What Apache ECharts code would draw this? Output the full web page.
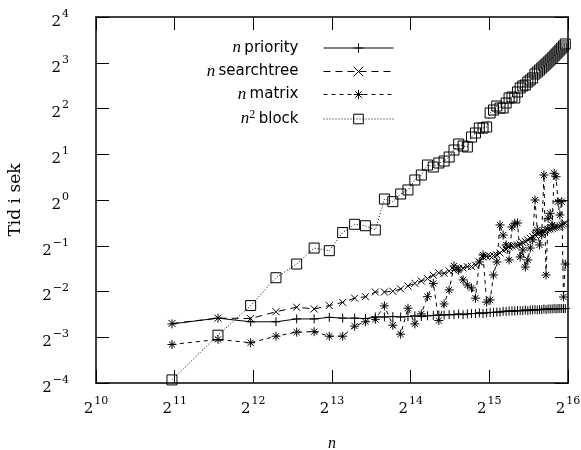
<!DOCTYPE html>
<html>
<head>
<meta charset="utf-8">
<script src="https://cdn.jsdelivr.net/npm/echarts@6/dist/echarts.min.js"></script>
<style>
  html, body { margin: 0; padding: 0; background: #fff; }
  #chart { width: 581px; height: 450px; }
</style>
</head>
<body>
<div id="chart"></div>
<script>
// Problem size n
const sizes = [
  2000, 3000, 4000, 5000, 6000, 7000, 8000, 9000, 10000, 11000,
  12000, 13000, 14000, 15000, 16000, 17000, 18000, 19000, 20000, 21000,
  22000, 23000, 24000, 25000, 26000, 27000, 28000, 29000, 30000, 31000,
  32000, 33000, 34000, 35000, 36000, 37000, 38000, 39000, 40000, 41000,
  42000, 43000, 44000, 45000, 46000, 47000, 48000, 49000, 50000, 51000,
  52000, 53000, 54000, 55000, 56000, 57000, 58000, 59000, 60000, 61000,
  62000, 63000, 64000
];

// Running time in seconds
const priorityTimes = [
  0.153, 0.167, 0.158, 0.158, 0.165, 0.165, 0.169, 0.167, 0.167, 0.166,
  0.170, 0.170, 0.171, 0.170, 0.171, 0.173, 0.171, 0.173, 0.174, 0.175,
  0.175, 0.176, 0.176, 0.178, 0.176, 0.178, 0.179, 0.179, 0.181, 0.179,
  0.181, 0.182, 0.182, 0.183, 0.183, 0.185, 0.185, 0.186, 0.186, 0.186,
  0.187, 0.187, 0.187, 0.189, 0.187, 0.189, 0.189, 0.190, 0.189, 0.190,
  0.190, 0.192, 0.190, 0.192, 0.192, 0.192, 0.193, 0.192, 0.193, 0.193,
  0.193, 0.193, 0.193
];

const searchtreeTimes = [
  0.154, 0.167, 0.166, 0.184, 0.197, 0.192, 0.202, 0.212, 0.226, 0.231,
  0.248, 0.248, 0.251, 0.260, 0.272, 0.283, 0.293, 0.304, 0.320, 0.332,
  0.329, 0.341, 0.346, 0.355, 0.357, 0.364, 0.365, 0.373, 0.391, 0.422,
  0.425, 0.428, 0.431, 0.435, 0.448, 0.469, 0.476, 0.491, 0.497, 0.502,
  0.506, 0.513, 0.524, 0.533, 0.546, 0.560, 0.575, 0.588, 0.604, 0.611,
  0.621, 0.625, 0.635, 0.642, 0.644, 0.651, 0.659, 0.664, 0.667, 0.674,
  0.685, 0.695, 0.703
];

const matrixTimes = [
  0.112, 0.121, 0.115, 0.127, 0.135, 0.136, 0.127, 0.127, 0.148, 0.158,
  0.164, 0.201, 0.150, 0.131, 0.194, 0.153, 0.178, 0.231, 0.283, 0.161,
  0.207, 0.256, 0.368, 0.346, 0.298, 0.276, 0.264, 0.226, 0.391, 0.435,
  0.213, 0.220, 0.321, 0.391, 0.685, 0.588, 0.506, 0.403, 0.664, 0.703,
  0.705, 0.422, 0.469, 0.362, 0.403, 0.483, 0.546, 1.000, 0.635, 0.506,
  0.588, 1.460, 0.321, 0.758, 0.817, 0.685, 1.499, 1.423, 0.975, 0.797,
  0.975, 0.230, 0.379
];

const blockTimes = [
  0.0655, 0.129, 0.202, 0.308, 0.379, 0.483, 0.464, 0.611, 0.692, 0.677,
  0.635, 1.015, 0.975, 1.095, 1.164, 1.354, 1.460, 1.699, 1.648, 1.752,
  1.805, 1.918, 2.133, 2.336, 2.266, 2.232, 2.597, 2.759, 2.977, 2.977,
  3.022, 3.737, 3.910, 4.155, 4.030, 4.030, 4.347, 4.690, 4.762, 4.690,
  5.137, 5.457, 5.625, 5.712, 5.977, 6.161, 6.350, 6.747, 6.955, 7.169,
  7.389, 7.615, 7.850, 8.090, 8.340, 8.597, 8.862, 9.134, 9.416, 9.706,
  10.00, 10.31, 10.63
];

const seriesNames = ['n priority', 'n searchtree', 'n matrix', 'n2 block'];
const legendWords = ['priority', 'searchtree', 'matrix', 'block'];

const SERIF = '"DejaVu Serif", "Liberation Serif", serif';
const ROMAN = '"Liberation Serif", "DejaVu Serif", serif';
const SANS = '"DejaVu Sans", "Liberation Sans", sans-serif';

const pairs = ys => sizes.map((n, i) => [n, ys[i]]);

// power-of-two tick labels: 2 with a raised exponent
const powerLabel = v => {
  const e = Math.round(Math.log2(v));
  return '{b|2}{e|' + (e < 0 ? '\u2212' + (-e) : e) + '}';
};
const powerRich = {
  b: { fontFamily: SERIF, fontSize: 15, color: '#000', verticalAlign: 'bottom', lineHeight: 16 },
  e: { fontFamily: SERIF, fontSize: 11, color: '#000', verticalAlign: 'bottom', lineHeight: 11, padding: [0, 0, 10, 1] }
};

const symbols = {
  plus: 'path://M5,0V10M0,5H10',
  cross: 'path://M0,0L10,10M10,0L0,10',
  star: 'path://M5,0V10M0,5H10M1.6,1.6L8.4,8.4M8.4,1.6L1.6,8.4',
  square: 'path://M0,0H10V10H0Z'
};

function lineSeries(name, ys, symbol, size, dash) {
  return {
    name: name,
    type: 'line',
    data: pairs(ys),
    symbol: symbol,
    symbolSize: size,
    showSymbol: true,
    showAllSymbol: true,
    smooth: false,
    itemStyle: { color: 'rgba(0,0,0,0)', borderColor: '#000', borderWidth: 1 },
    lineStyle: { color: '#000', width: 1, type: dash },
    emphasis: { disabled: true }
  };
}

const legendRich = {
  i: { fontFamily: ROMAN, fontStyle: 'italic', fontSize: 17, color: '#000' },
  s: { fontFamily: SANS, fontSize: 15, color: '#000' },
  sup: { fontFamily: ROMAN, fontSize: 12, color: '#000', verticalAlign: 'bottom', padding: [0, 0, 9, 0] }
};

const legendRows = [48, 71.5, 94.5, 117];
const legends = seriesNames.map((nm, k) => ({
  data: [nm],
  orient: 'vertical',
  align: 'right',
  right: 187,
  top: legendRows[k] - 8.5,
  padding: 0,
  itemWidth: 70,
  itemHeight: 12,
  selectedMode: false,
  formatter: () => k === 3
    ? '{i|n}{sup|2} {s|' + legendWords[k] + '}'
    : '{i|n} {s|' + legendWords[k] + '}',
  textStyle: { color: '#000', padding: [0, 20, 0, 0], rich: legendRich },
  itemStyle: { borderWidth: 1 },
  lineStyle: { type: 'inherit', width: 1 }
}));

const tickStyle = { show: true, inside: true, length: 13, lineStyle: { color: '#000', width: 1 } };
const frameLine = { show: true, lineStyle: { color: '#000', width: 1.5 } };

const chart = echarts.init(document.getElementById('chart'), null, { renderer: 'canvas' });
chart.setOption({
  animation: false,
  backgroundColor: '#fff',
  grid: { left: 96, right: 13, top: 17, bottom: 67, containLabel: false, outerBoundsMode: 'none' },
  legend: legends,
  xAxis: [
    {
      type: 'log', logBase: 2, min: 1024, max: 65536, splitNumber: 6,
      name: 'n', nameLocation: 'middle', nameGap: 53,
      nameTextStyle: { fontFamily: ROMAN, fontStyle: 'italic', fontSize: 16, color: '#000' },
      axisLine: frameLine, axisTick: tickStyle, splitLine: { show: false }, minorTick: { show: false },
      axisLabel: { formatter: powerLabel, rich: powerRich, margin: 18, color: '#000' }
    },
    {
      type: 'log', logBase: 2, min: 1024, max: 65536, splitNumber: 6, position: 'top',
      axisLine: frameLine, axisTick: tickStyle, splitLine: { show: false }, axisLabel: { show: false }
    }
  ],
  yAxis: [
    {
      type: 'log', logBase: 2, min: 1 / 16, max: 16, splitNumber: 8,
      name: 'Tid i sek', nameLocation: 'middle', nameGap: 72, nameRotate: 90,
      nameTextStyle: { fontFamily: SERIF, fontSize: 17, color: '#000' },
      axisLine: frameLine, axisTick: tickStyle, splitLine: { show: false },
      axisLabel: { formatter: powerLabel, rich: powerRich, margin: 27, color: '#000', padding: [9, 0, 0, 0] }
    },
    {
      type: 'log', logBase: 2, min: 1 / 16, max: 16, splitNumber: 8, position: 'right',
      axisLine: frameLine, axisTick: tickStyle, splitLine: { show: false }, axisLabel: { show: false }
    }
  ],
  series: [
    lineSeries(seriesNames[0], priorityTimes, symbols.plus, 9, 'solid'),
    lineSeries(seriesNames[1], searchtreeTimes, symbols.cross, 7, [7, 5]),
    lineSeries(seriesNames[2], matrixTimes, symbols.star, 9, [4, 4]),
    lineSeries(seriesNames[3], blockTimes, symbols.square, 10, [1, 2])
  ]
});
</script>
</body>
</html>
